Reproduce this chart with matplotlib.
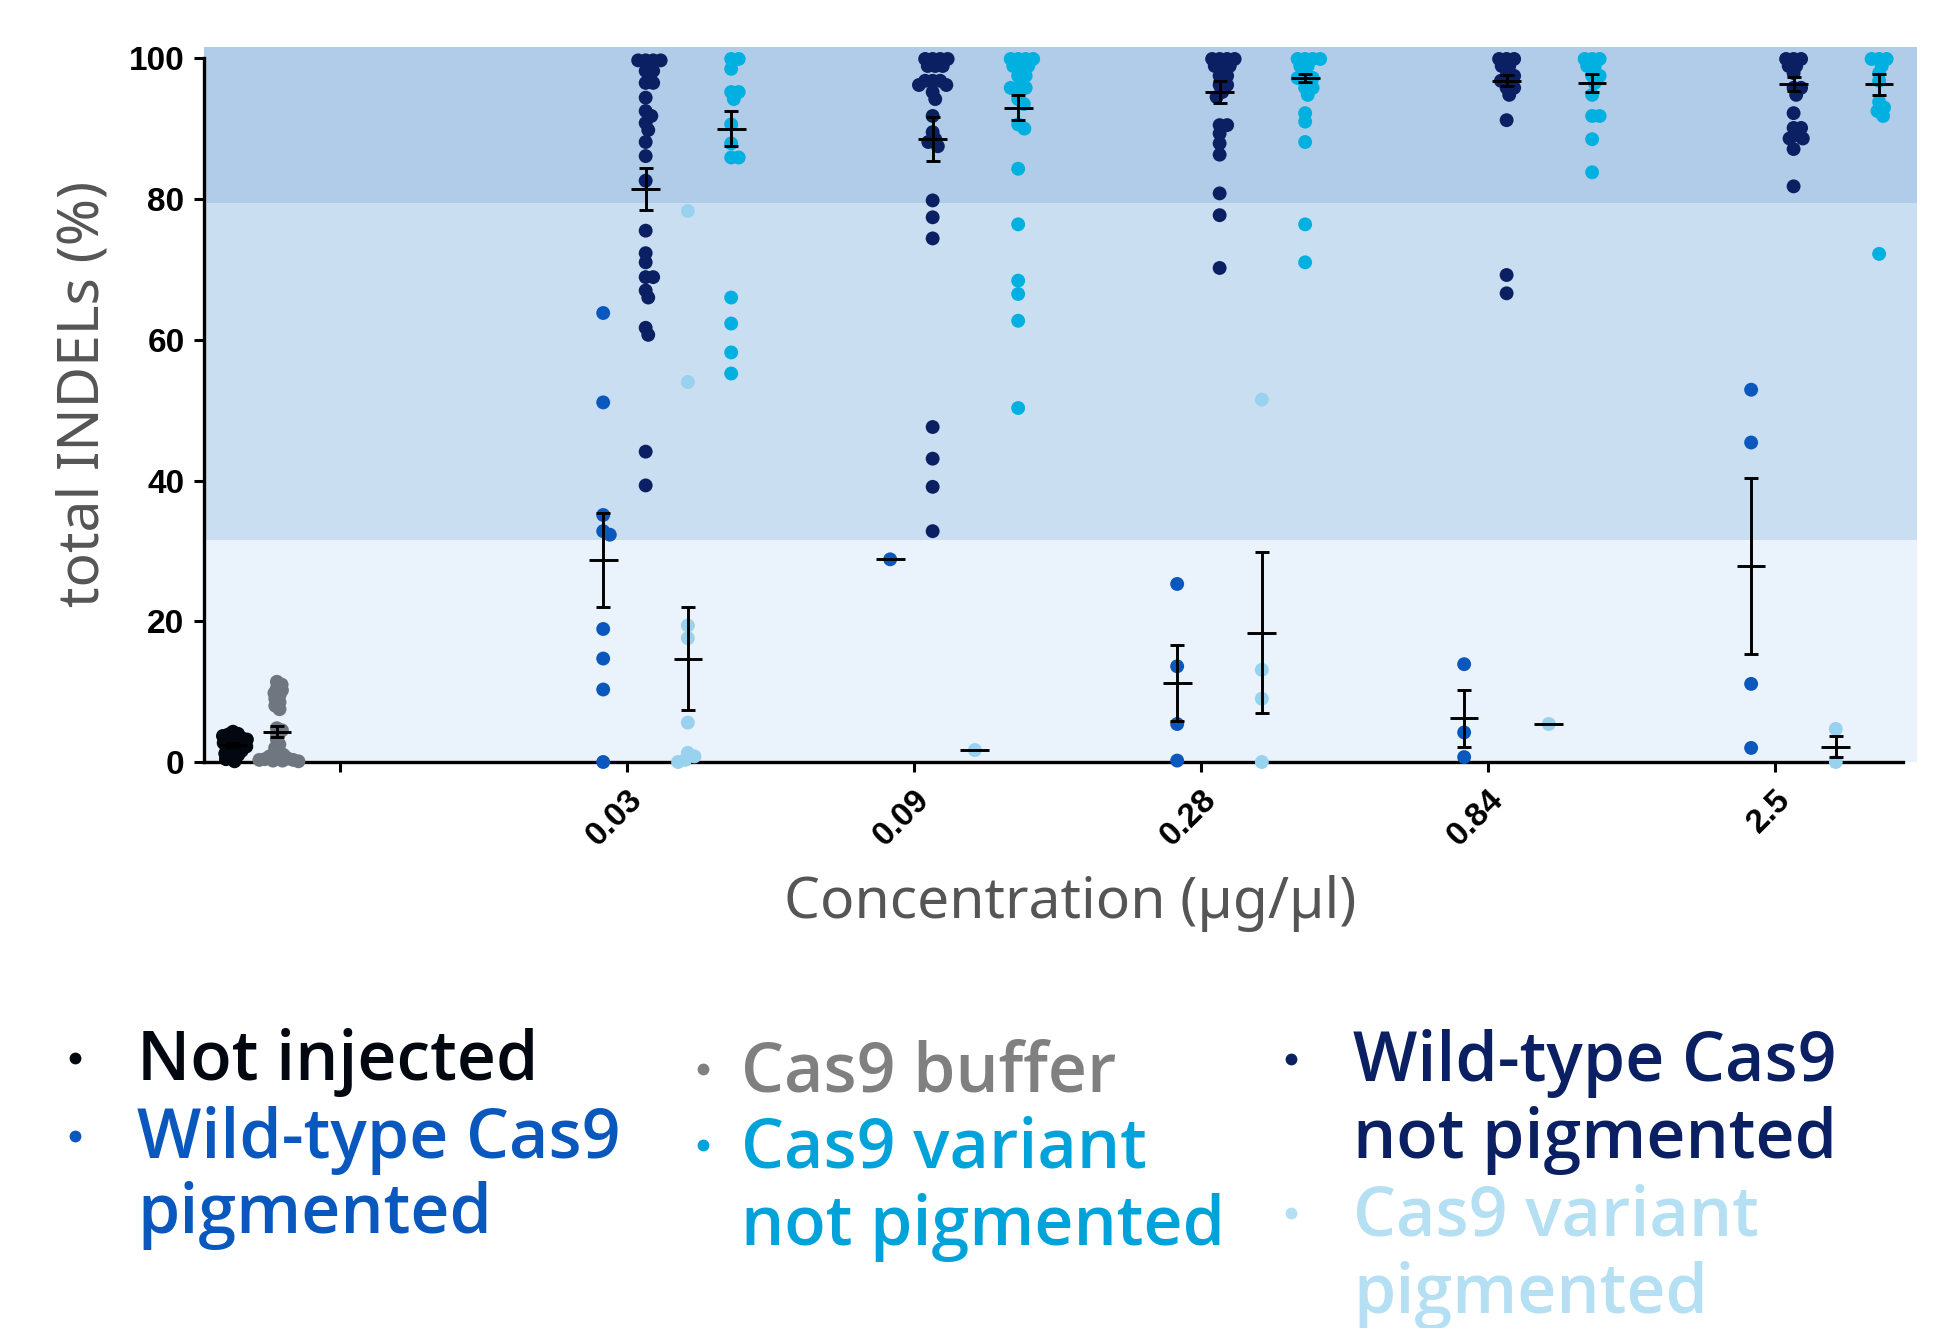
import numpy as np
import matplotlib
matplotlib.use('Agg')
import matplotlib.pyplot as plt
from matplotlib.lines import Line2D

# concentrations (ug/ul) on the x axis, first tick is the control group
concentrations = ['0.03', '0.09', '0.28', '0.84', '2.5']

# controls
not_injected = [4.3, 4.0, 3.9, 3.7, 3.5, 3.4, 3.2, 3.0, 2.9, 2.7, 2.5, 2.4, 2.2,
                2.0, 1.8, 1.6, 1.4, 1.2, 1.0, 0.7, 0.4, 0.1]
not_injected_mean, not_injected_sem = 2.4, 0.3
cas9_buffer = [11.4, 11.0, 10.5, 10.2, 9.8, 9.5, 9.0, 8.5, 8.0, 7.5, 4.8, 4.5, 4.0,
               3.2, 2.5, 2.0, 1.5, 1.2, 1.0, 0.8, 0.6, 0.5, 0.4, 0.3, 0.3, 0.2, 0.2, 0.1]
cas9_buffer_mean, cas9_buffer_sem = 4.3, 0.8

# wild-type Cas9, pigmented
wt_pig = [[63.8, 51.1, 35.1, 32.8, 32.3, 18.9, 14.7, 10.3, 0.0],
          [28.8],
          [25.3, 13.6, 5.4, 0.2],
          [13.9, 4.2, 0.7],
          [52.9, 45.4, 11.1, 2.0]]
wt_pig_mean = [28.7, 28.8, 11.2, 6.2, 27.9]
wt_pig_sem = [6.7, 0.0, 5.4, 4.0, 12.5]

# wild-type Cas9, not pigmented
wt_np = [[99.7, 99.7, 99.7, 99.7, 98.2, 98.2, 96.5, 96.5, 94.4, 92.5, 91.8, 90.8, 89.8,
          88.1, 86.1, 82.6, 75.5, 72.3, 71.0, 68.9, 68.9, 67.0, 66.0, 61.7, 60.7, 44.1, 39.3],
         [99.9, 99.9, 99.9, 99.9, 98.9, 98.9, 98.9, 96.8, 96.8, 96.8, 96.2, 96.2, 95.2, 94.2,
          91.8, 89.5, 88.5, 88.1, 87.5, 79.8, 77.4, 74.4, 47.6, 43.1, 39.1, 32.8],
         [99.9, 99.9, 99.9, 99.9, 98.9, 98.9, 98.9, 97.5, 97.5, 96.2, 96.2, 95.2, 94.5,
          90.5, 90.5, 89.3, 87.9, 86.3, 80.8, 77.7, 70.2],
         [99.9, 99.9, 99.9, 98.9, 98.9, 97.5, 97.5, 96.8, 95.8, 95.8, 94.8, 91.2, 69.2, 66.6],
         [99.9, 99.9, 99.9, 98.9, 98.9, 97.9, 95.8, 95.8, 94.8, 92.2, 90.1, 90.1, 89.1,
          88.6, 88.6, 87.1, 81.8]]
wt_np_mean = [81.4, 88.5, 95.2, 96.8, 96.4]
wt_np_sem = [3.0, 3.1, 1.6, 0.8, 1.0]

# Cas9 variant, pigmented
var_pig = [[78.3, 54.0, 19.4, 17.6, 5.6, 1.3, 0.8, 0.3, 0.0],
           [1.7],
           [51.5, 13.1, 9.0, 0.0],
           [5.4],
           [4.7, 0.0]]
var_pig_mean = [14.7, 1.7, 18.4, 5.4, 2.2]
var_pig_sem = [7.3, 0.0, 11.4, 0.0, 1.5]

# Cas9 variant, not pigmented
var_np = [[99.9, 99.9, 98.5, 95.2, 95.2, 94.2, 90.6, 87.9, 85.9, 85.9, 66.0, 62.3, 58.2, 55.2],
          [99.9, 99.9, 99.9, 99.9, 98.9, 98.9, 98.9, 97.5, 97.5, 95.8, 95.8, 95.8, 94.2,
           93.5, 90.6, 90.0, 84.3, 76.4, 68.4, 66.5, 62.7, 50.3],
          [99.9, 99.9, 99.9, 99.9, 98.9, 98.9, 97.2, 97.2, 97.2, 95.8, 95.8, 94.8, 92.2,
           91.0, 88.1, 76.4, 71.0],
          [99.9, 99.9, 99.9, 98.9, 98.9, 97.5, 97.5, 96.5, 94.8, 91.8, 91.8, 88.5, 83.8],
          [99.9, 99.9, 99.9, 98.9, 97.9, 96.8, 93.8, 93.0, 92.5, 91.8, 72.2]]
var_np_mean = [90.0, 93.0, 97.2, 96.5, 96.3]
var_np_sem = [2.5, 1.8, 0.6, 1.3, 1.5]

# shaded INDEL bands
bands = [(0, 31.6), (31.6, 79.5), (79.5, 101.6)]
band_colors = ['#eaf2fb', '#cadef2', '#b1cce8']

c_notinj = '#03070f'
c_buffer = '#6f767f'
c_wtpig = '#0a58bd'
c_wtnp = '#0b1f63'
c_varpig = '#98d2ee'
c_varnp = '#00b0e0'

W, H = 1947, 1328
fig = plt.figure(figsize=(W / 100, H / 100), dpi=100)
ax = fig.add_axes([204 / W, 1 - 762 / H, (1917 - 204) / W, (762 - 47) / H])
ax.set_xlim(-0.474, 5.495)
ax.set_ylim(0, 101.6)

for (lo, hi), col in zip(bands, band_colors):
    ax.axhspan(lo, hi, color=col, lw=0, zorder=0)

xscale = ax.transData.transform((1, 0))[0] - ax.transData.transform((0, 0))[0]
yscale = ax.transData.transform((0, 1))[1] - ax.transData.transform((0, 0))[1]


def swarm(vals, d):
    ys = np.asarray(vals, dtype=float) * yscale
    offs = np.zeros(len(ys))
    placed = []
    for i in np.argsort(-ys, kind='stable'):
        y = ys[i]
        cands = [0.0]
        for px, py in placed:
            dy = y - py
            if abs(dy) < d:
                dx = np.sqrt(d * d - dy * dy)
                cands += [px + dx, px - dx]
        cands.sort(key=abs)
        pick = cands[-1]
        for c in cands:
            if all((c - px) ** 2 + (y - py) ** 2 >= d * d - 1e-6 for px, py in placed):
                pick = c
                break
        offs[i] = pick
        placed.append((pick, y))
    return offs / xscale


def column(x, vals, mean, sem, color, d=7.5):
    xs = x + swarm(vals, d)
    ax.scatter(xs, vals, s=100, color=color, edgecolors='none', zorder=3, clip_on=False)
    ax.hlines(mean, x - 0.05, x + 0.05, color='black', lw=2.1, zorder=4)
    if sem > 0:
        ax.errorbar([x], [mean], yerr=[sem], fmt='none', ecolor='black', elinewidth=2.1,
                    capsize=4.7, capthick=2.1, zorder=4)


column(-0.373, not_injected, not_injected_mean, not_injected_sem, c_notinj, d=5.5)
column(-0.22, cas9_buffer, cas9_buffer_mean, cas9_buffer_sem, c_buffer, d=5.5)

offsets = [-0.083, 0.065, 0.212, 0.363]
for i in range(len(concentrations)):
    t = i + 1
    column(t + offsets[0], wt_pig[i], wt_pig_mean[i], wt_pig_sem[i], c_wtpig)
    column(t + offsets[1], wt_np[i], wt_np_mean[i], wt_np_sem[i], c_wtnp)
    column(t + offsets[2], var_pig[i], var_pig_mean[i], var_pig_sem[i], c_varpig)
    column(t + offsets[3], var_np[i], var_np_mean[i], var_np_sem[i], c_varnp)

for s in ['top', 'right']:
    ax.spines[s].set_visible(False)
ax.spines['left'].set_linewidth(2.4)
ax.spines['bottom'].set_linewidth(2.4)
ax.spines['left'].set_bounds(0, 100)
ax.spines['bottom'].set_bounds(-0.474, 5.446)
ax.spines['left'].set_zorder(2)
ax.spines['bottom'].set_zorder(2)

ax.set_yticks(range(0, 101, 20))
ax.set_yticklabels([str(v) for v in range(0, 101, 20)], fontsize=24, fontweight='bold',
                   family='Liberation Sans')
ax.set_xticks(range(len(concentrations) + 1))
ax.set_xticklabels([''] + concentrations, fontsize=24, fontweight='bold',
                   family='Liberation Sans', rotation=45, ha='right', rotation_mode='anchor')
ax.tick_params(axis='both', length=7, width=2.2, direction='out')
ax.tick_params(axis='y', pad=7)
ax.tick_params(axis='x', pad=9)

lab_font = dict(family='Noto Sans', color='#555555', fontsize=41)
fig.text(84 / W, 1 - 394 / H, 'total INDELs (%)', rotation=90, ha='center', va='center', **lab_font)
fig.text(1070 / W, 1 - 903 / H, 'Concentration (µg/µl)', ha='center', va='center', **lab_font)

# legend written as coloured text
legend_items = [
    (75, 137, [(1080, 'Not injected')], c_notinj),
    (75, 137, [(1158, 'Wild-type Cas9'), (1233, 'pigmented')], c_wtpig),
    (703, 741, [(1091, 'Cas9 buffer')], '#808080'),
    (703, 741, [(1167, 'Cas9 variant'), (1245, 'not pigmented')], '#00a3d9'),
    (1291, 1353, [(1081, 'Wild-type Cas9'), (1158, 'not pigmented')], c_wtnp),
    (1291, 1353, [(1235, 'Cas9 variant'), (1313, 'pigmented')], '#b5dff3'),
]
for bx, tx, lines, col in legend_items:
    by = lines[0][0] - 22
    fig.add_artist(Line2D([bx / W], [1 - by / H], marker='o', markersize=8.5, color=col,
                          markeredgewidth=0, transform=fig.transFigure))
    for base, txt in lines:
        fig.text(tx / W, 1 - base / H, txt, ha='left', va='baseline', color=col,
                 family='Open Sans', fontweight='semibold', fontsize=49)

fig.savefig('out.png', dpi=100)
